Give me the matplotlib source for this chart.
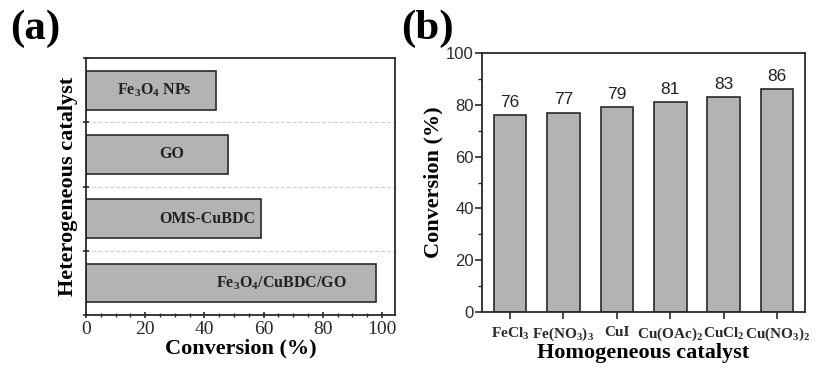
import matplotlib
matplotlib.use('Agg')
import matplotlib.pyplot as plt
from matplotlib.ticker import MultipleLocator

# Dados
hetero_cat = ['Fe$_3$O$_4$/CuBDC/GO', 'OMS-CuBDC', 'GO', 'Fe$_3$O$_4$ NPs']
hetero_conv = [98, 59, 48, 44]
hetero_label_x = [66, 41, 29, 23]

homo_cat = ['FeCl$_3$', 'Fe(NO$_3$)$_3$', 'CuI', 'Cu(OAc)$_2$', 'CuCl$_2$', 'Cu(NO$_3$)$_2$']
homo_conv = [76, 77, 79, 81, 83, 86]

plt.rcParams['mathtext.fontset'] = 'custom'
plt.rcParams['mathtext.rm'] = 'Liberation Serif:bold'
plt.rcParams['mathtext.it'] = 'Liberation Serif:bold'
plt.rcParams['mathtext.bf'] = 'Liberation Serif:bold'

serif = 'Liberation Serif'
sans = 'Liberation Sans'
cinza = '#b3b3b3'
borda = '#2a2a2a'

fig = plt.figure(figsize=(8.16, 3.68), dpi=100)

# (a) Grafico de barras horizontais
ax1 = fig.add_axes([0.1054, 0.144, 0.379, 0.698])
pos = list(range(len(hetero_cat)))
ax1.barh(pos, hetero_conv, height=0.6, color=cinza, edgecolor=borda, linewidth=1.2)
for p, lab, lx in zip(pos, hetero_cat, hetero_label_x):
    ax1.text(lx, p, lab, ha='center', va='center', fontfamily=serif,
             fontweight='bold', fontsize=11.5, color='#222222')
ax1.set_xlim(0, 104.5)
ax1.set_ylim(-0.5, 3.5)
ax1.set_yticks([-0.5, 0.5, 1.5, 2.5, 3.5])
ax1.set_yticklabels([])
for g in [0.5, 1.5, 2.5]:
    ax1.axhline(g, color='#cfcfcf', linestyle='--', linewidth=0.8, zorder=0)
ax1.xaxis.set_major_locator(MultipleLocator(20))
ax1.xaxis.set_minor_locator(MultipleLocator(5))
ax1.tick_params(axis='x', which='major', direction='inout', length=5, width=1.2,
                labelsize=14, colors=borda, pad=2)
ax1.tick_params(axis='x', which='minor', direction='inout', length=3, width=1, colors=borda)
ax1.tick_params(axis='y', direction='inout', length=5, width=1.2, colors=borda)
for t in ax1.get_xticklabels():
    t.set_fontfamily(serif)
ax1.set_xlabel('Conversion (%)', fontfamily=serif, fontweight='bold', fontsize=16, labelpad=0)
ax1.set_ylabel('Heterogeneous catalyst', fontfamily=serif, fontweight='bold', fontsize=16, labelpad=0)
for s in ax1.spines.values():
    s.set_linewidth(1.3)
    s.set_color(borda)
fig.text(0.012, 0.975, '(a)', fontfamily=serif, fontweight='bold', fontsize=31, va='top')

# (b) Grafico de barras verticais
ax2 = fig.add_axes([0.591, 0.152, 0.3955, 0.704])
xpos = list(range(len(homo_cat)))
ax2.bar(xpos, homo_conv, width=0.61, color=cinza, edgecolor=borda, linewidth=1.2)
for x, v in zip(xpos, homo_conv):
    ax2.text(x, v + 2, str(v), ha='center', va='bottom', fontfamily=sans, fontsize=12.5, color='#222222')
ax2.set_xlim(-0.52, 5.52)
ax2.set_ylim(0, 100)
ax2.set_xticks(xpos)
ax2.set_xticklabels(homo_cat, fontfamily=serif, fontweight='bold', fontsize=11)
ax2.yaxis.set_major_locator(MultipleLocator(20))
ax2.yaxis.set_minor_locator(MultipleLocator(10))
ax2.tick_params(axis='y', which='major', direction='out', length=5, width=1.2, labelsize=12,
                colors=borda, pad=1)
ax2.tick_params(axis='y', which='minor', direction='out', length=3, width=1, colors=borda)
ax2.tick_params(axis='x', direction='out', length=5, width=1.2, colors=borda, pad=5)
for t in ax2.get_yticklabels():
    t.set_fontfamily(sans)
ax2.set_xlabel('Homogeneous catalyst', fontfamily=serif, fontweight='bold', fontsize=16, labelpad=0)
ax2.set_ylabel('Conversion (%)', fontfamily=serif, fontweight='bold', fontsize=16, labelpad=2)
for s in ax2.spines.values():
    s.set_linewidth(1.3)
    s.set_color(borda)
fig.text(0.492, 0.975, '(b)', fontfamily=serif, fontweight='bold', fontsize=31, va='top')

plt.savefig('out.png', dpi=100)
